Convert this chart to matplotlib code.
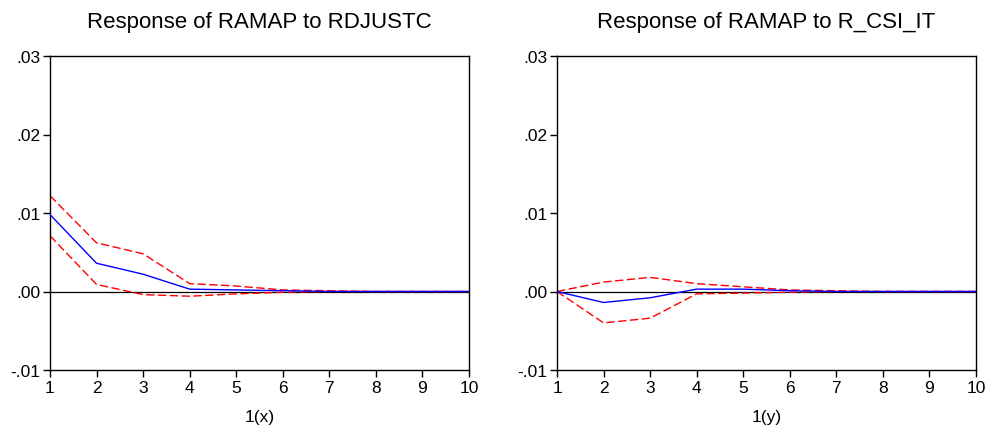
import matplotlib
matplotlib.use("Agg")
import matplotlib.pyplot as plt

plt.rcParams['font.family'] = ['Liberation Sans', 'DejaVu Sans']

periods = [1, 2, 3, 4, 5, 6, 7, 8, 9, 10]

resp_x = [0.0098, 0.0036, 0.0022, 0.0003, 0.0002, 0.0001, 0.0, 0.0, 0.0, 0.0]
upper_x = [0.0122, 0.0062, 0.0048, 0.0010, 0.0007, 0.0002, 0.0001, 0.0, 0.0, 0.0]
lower_x = [0.0071, 0.0009, -0.0004, -0.0006, -0.0003, -0.0001, 0.0, 0.0, 0.0, 0.0]

resp_y = [0.0, -0.0014, -0.0008, 0.0003, 0.0003, 0.0001, 0.0, 0.0, 0.0, 0.0]
upper_y = [0.0, 0.0012, 0.0018, 0.0010, 0.0006, 0.0002, 0.0001, 0.0, 0.0, 0.0]
lower_y = [0.0, -0.0040, -0.0034, -0.0003, -0.0002, -0.0001, 0.0, 0.0, 0.0, 0.0]

titles = ["Response of RAMAP to RDJUSTC", "Response of RAMAP to R_CSI_IT"]
xlabels = ["1(x)", "1(y)"]
yticks = [-0.01, 0.0, 0.01, 0.02, 0.03]
ytick_labels = ["-.01", ".00", ".01", ".02", ".03"]

fig = plt.figure(figsize=(9.9, 4.31), dpi=100)
W, H = 990, 431
boxes = [(50, 57, 469, 371), (557, 57, 976, 371)]
data = [(resp_x, upper_x, lower_x), (resp_y, upper_y, lower_y)]

for i, (x0, y0, x1, y1) in enumerate(boxes):
    ax = fig.add_axes([x0 / W, 1 - y1 / H, (x1 - x0) / W, (y1 - y0) / H])
    r, u, l = data[i]
    ax.axhline(0, color='black', lw=0.9, zorder=1)
    ax.plot(periods, r, color='#0000ff', lw=1.0, zorder=3)
    ax.plot(periods, u, color='#ff0000', lw=1.0, ls=(0, (6, 2.5)), zorder=2)
    ax.plot(periods, l, color='#ff0000', lw=1.0, ls=(0, (6, 2.5)), zorder=2)
    ax.set_xlim(1, 10)
    ax.set_ylim(-0.01, 0.03)
    ax.set_xticks(periods)
    ax.set_yticks(yticks)
    ax.set_yticklabels(ytick_labels)
    ax.tick_params(direction='out', length=5, width=1, labelsize=12.5, pad=2, colors='black')
    for s in ax.spines.values():
        s.set_linewidth(1.0)
    ax.set_title(titles[i], fontsize=16, pad=21)
    ax.set_xlabel(xlabels[i], fontsize=12.5, labelpad=10)

fig.savefig("out.png", dpi=100)
